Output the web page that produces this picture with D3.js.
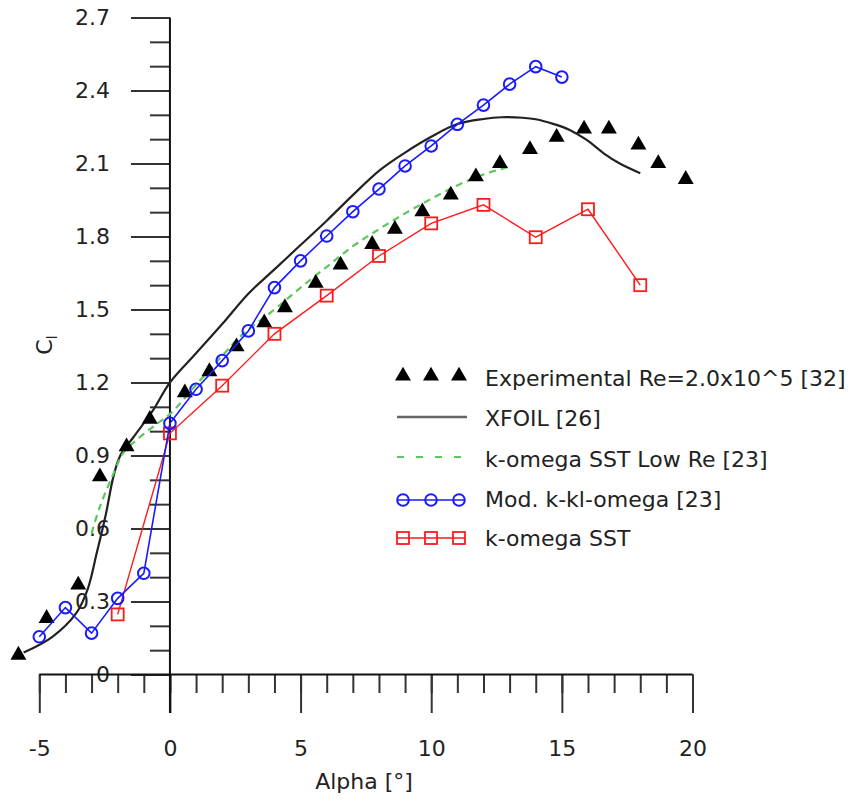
<!DOCTYPE html>
<html>
<head>
<meta charset="utf-8">
<script src="https://cdn.jsdelivr.net/npm/d3@7"></script>
<style>
  html, body { margin: 0; padding: 0; background: #fff; }
  svg { display: block; font-family: "DejaVu Sans", Verdana, sans-serif; }
</style>
</head>
<body>
<svg id="chart" width="852" height="801"></svg>
<script>
// Lift coefficient vs angle of attack

// Experimental, Re = 2.0x10^5
const expAlpha = [-5.8, -4.72, -3.51, -2.68, -1.66, -0.77, 0.57, 1.51, 2.55, 3.61, 4.40, 5.58, 6.53,
                  7.74, 8.61, 9.66, 10.75, 11.71, 12.63, 13.78, 14.8, 15.85, 16.8, 17.93, 18.69, 19.74];
const expCl    = [0.08, 0.231, 0.368, 0.813, 0.936, 1.049, 1.158, 1.245, 1.347, 1.446, 1.508, 1.608, 1.683,
                  1.768, 1.83, 1.902, 1.971, 2.046, 2.10, 2.158, 2.208, 2.242, 2.242, 2.176, 2.10, 2.035];

// XFOIL
const xfoilAlpha = [-5.6, -4.5, -3.6, -3.15, -2.8, -2.45, -2.17, -1.9, -1.4, -0.65, 0, 1, 2, 3, 4, 5, 6,
                    7, 8, 9, 10, 11, 12, 12.7, 13.5, 14, 14.7, 15.3, 15.95, 16.6, 17.2, 18];
const xfoilCl    = [0.09, 0.155, 0.25, 0.35, 0.50, 0.66, 0.81, 0.90, 0.975, 1.085, 1.20, 1.32, 1.44, 1.565,
                    1.665, 1.765, 1.865, 1.97, 2.07, 2.145, 2.21, 2.262, 2.283, 2.29, 2.288, 2.282, 2.262,
                    2.238, 2.197, 2.142, 2.101, 2.06];

// k-omega SST Low Re
const lowReAlpha = [-3.0, -2.68, -2.1, -1.79, -1.15, -0.5, 0, 1, 2, 2.68, 4, 5, 6, 7, 8, 9, 10, 11, 12, 13];
const lowReCl    = [0.58, 0.69, 0.84, 0.91, 0.975, 1.03, 1.07, 1.19, 1.31, 1.388, 1.50, 1.59, 1.675, 1.76,
                    1.83, 1.895, 1.955, 2.01, 2.055, 2.087];

// Mod. k-kl-omega
const kklAlpha = [-5, -4, -3, -2, -1, 0, 1, 2, 3, 4, 5, 6, 7, 8, 9, 10, 11, 12, 13, 14, 15];
const kklCl    = [0.155, 0.275, 0.17, 0.313, 0.416, 1.032, 1.172, 1.29, 1.412, 1.59, 1.70, 1.802, 1.902,
                  1.995, 2.09, 2.172, 2.261, 2.34, 2.426, 2.498, 2.455];

// k-omega SST
const sstAlpha = [-2, 0, 2, 4, 6, 8, 10, 12, 14, 16, 18];
const sstCl    = [0.247, 0.991, 1.187, 1.40, 1.557, 1.72, 1.854, 1.93, 1.797, 1.912, 1.60];

// Axis ticks
const xMajorTicks = [-5, 0, 5, 10, 15, 20];
const xMinorTicks = d3.range(-5, 20.01, 1);
const yMajorTicks = [0, 0.3, 0.6, 0.9, 1.2, 1.5, 1.8, 2.1, 2.4, 2.7];
const yMinorTicks = d3.range(0, 27.01, 1).map(v => v / 10);

const legendLabels = ["Experimental Re=2.0x10^5 [32]", "XFOIL [26]", "k-omega SST Low Re [23]",
                      "Mod. k-kl-omega [23]", "k-omega SST"];

const zip = (a, b) => a.map((v, i) => [v, b[i]]);

const svg = d3.select("#chart");
const x = d3.scaleLinear().domain([-5, 20]).range([39.3, 692.5]);
const y = d3.scaleLinear().domain([0, 2.7]).range([674.5, 17.5]);
const x0 = x(0), y0 = y(0);

const textColor = "#222";
const tickColor = "#333";

// ----- Y axis (placed at alpha = 0) -----
const yAxisG = svg.append("g").attr("transform", `translate(${x0},0)`);
yAxisG.append("g")
  .call(d3.axisLeft(y).tickValues(yMinorTicks).tickSize(20).tickFormat(""))
  .call(g => g.select(".domain").remove());
yAxisG.append("g")
  .call(d3.axisLeft(y).tickValues(yMajorTicks).tickSize(39).tickPadding(21)
          .tickFormat(d => d === 0 ? "0" : d.toFixed(1)))
  .call(g => g.select(".domain").remove())
  .call(g => g.selectAll("text").attr("font-size", 22).attr("fill", textColor)
            .attr("font-family", "DejaVu Sans"));
yAxisG.selectAll(".tick line").attr("stroke", tickColor).attr("stroke-width", 2);

// ----- X axis (placed at Cl = 0) -----
const xAxisG = svg.append("g").attr("transform", `translate(0,${y0})`);
xAxisG.append("g")
  .call(d3.axisBottom(x).tickValues(xMinorTicks).tickSize(18.5).tickFormat(""))
  .call(g => g.select(".domain").remove());
xAxisG.append("g")
  .call(d3.axisBottom(x).tickValues(xMajorTicks).tickSize(38.5).tickPadding(27)
          .tickFormat(d => String(d)))
  .call(g => g.select(".domain").remove())
  .call(g => g.selectAll("text").attr("font-size", 22).attr("fill", textColor)
            .attr("font-family", "DejaVu Sans"));
xAxisG.selectAll(".tick line").attr("stroke", tickColor).attr("stroke-width", 2);

// axis lines
svg.append("line").attr("x1", x0).attr("x2", x0).attr("y1", y(2.7)).attr("y2", y0 + 38.5)
  .attr("stroke", "#111").attr("stroke-width", 2);
svg.append("line").attr("x1", x(-5)).attr("x2", x(20)).attr("y1", y0).attr("y2", y0)
  .attr("stroke", "#111").attr("stroke-width", 2);

// axis titles
svg.append("text").attr("x", 364).attr("y", 789).attr("text-anchor", "middle")
  .attr("font-size", 22).attr("fill", textColor).text("Alpha [°]");
const yTitle = svg.append("text").attr("transform", "translate(52,345) rotate(-90)")
  .attr("text-anchor", "middle").attr("font-size", 22).attr("fill", textColor);
yTitle.append("tspan").text("C");
yTitle.append("tspan").attr("font-size", 14).attr("dy", 5).text("l");

// ----- Series -----
const line = d3.line().x(d => x(d[0])).y(d => y(d[1]));
const smooth = d3.line().x(d => x(d[0])).y(d => y(d[1])).curve(d3.curveCatmullRom.alpha(0.5));

const xfoilColor = "#222", lowReColor = "#5cc85c", kklColor = "#1a1aff", sstColor = "#ff1a1a";

svg.append("path").datum(zip(xfoilAlpha, xfoilCl)).attr("d", smooth)
  .attr("fill", "none").attr("stroke", xfoilColor).attr("stroke-width", 2.2);

svg.append("path").datum(zip(lowReAlpha, lowReCl)).attr("d", smooth)
  .attr("fill", "none").attr("stroke", lowReColor).attr("stroke-width", 2.2)
  .attr("stroke-dasharray", "7,5");

const tri = d3.symbol().type(d3.symbolTriangle).size(110);
svg.append("g").selectAll("path").data(zip(expAlpha, expCl)).join("path")
  .attr("d", tri).attr("transform", d => `translate(${x(d[0])},${y(d[1])})`)
  .attr("fill", "#000");

svg.append("path").datum(zip(sstAlpha, sstCl)).attr("d", line)
  .attr("fill", "none").attr("stroke", sstColor).attr("stroke-width", 1.4);
svg.append("g").selectAll("rect").data(zip(sstAlpha, sstCl)).join("rect")
  .attr("x", d => x(d[0]) - 6).attr("y", d => y(d[1]) - 6).attr("width", 12).attr("height", 12)
  .attr("fill", "none").attr("stroke", sstColor).attr("stroke-width", 1.8);

svg.append("path").datum(zip(kklAlpha, kklCl)).attr("d", line)
  .attr("fill", "none").attr("stroke", kklColor).attr("stroke-width", 1.6);
svg.append("g").selectAll("circle").data(zip(kklAlpha, kklCl)).join("circle")
  .attr("cx", d => x(d[0])).attr("cy", d => y(d[1])).attr("r", 5.8)
  .attr("fill", "none").attr("stroke", kklColor).attr("stroke-width", 2);

// ----- Legend -----
const legend = svg.append("g");
const lx = [403, 431, 459];
const rowY = [376, 417, 457, 500, 538];
const textY = [386, 426, 467, 507, 546];

legend.selectAll("path.tri").data(lx).join("path").attr("class", "tri")
  .attr("d", tri).attr("transform", d => `translate(${d},${rowY[0]})`).attr("fill", "#000");

legend.append("line").attr("x1", 397).attr("x2", 467).attr("y1", rowY[1]).attr("y2", rowY[1])
  .attr("stroke", "#666").attr("stroke-width", 2.6);

legend.append("line").attr("x1", 397).attr("x2", 467).attr("y1", rowY[2]).attr("y2", rowY[2])
  .attr("stroke", lowReColor).attr("stroke-width", 2).attr("stroke-dasharray", "7,12");

legend.append("line").attr("x1", 397).attr("x2", 465).attr("y1", rowY[3]).attr("y2", rowY[3])
  .attr("stroke", kklColor).attr("stroke-width", 1.6);
legend.selectAll("circle").data(lx).join("circle")
  .attr("cx", d => d).attr("cy", rowY[3]).attr("r", 5.8)
  .attr("fill", "none").attr("stroke", kklColor).attr("stroke-width", 2);

legend.append("line").attr("x1", 397).attr("x2", 465).attr("y1", rowY[4]).attr("y2", rowY[4])
  .attr("stroke", sstColor).attr("stroke-width", 1.4);
legend.selectAll("rect").data(lx).join("rect")
  .attr("x", d => d - 6).attr("y", rowY[4] - 6).attr("width", 12).attr("height", 12)
  .attr("fill", "none").attr("stroke", sstColor).attr("stroke-width", 1.8);

legend.selectAll("text").data(legendLabels).join("text")
  .attr("x", 485).attr("y", (d, i) => textY[i])
  .attr("font-size", 22).attr("fill", textColor).text(d => d);
</script>
</body>
</html>
